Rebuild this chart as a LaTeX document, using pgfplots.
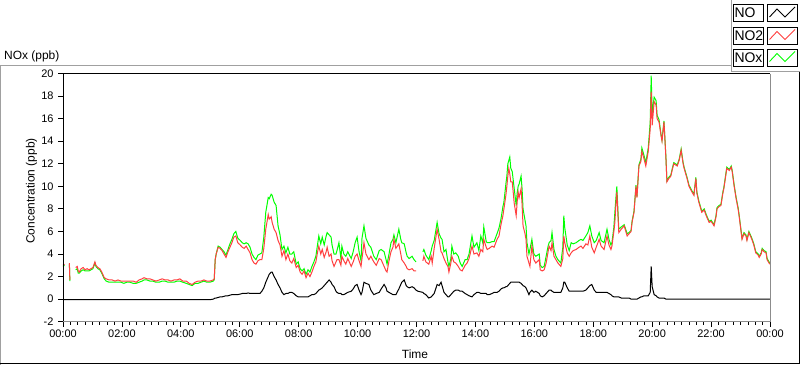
\documentclass[border=0pt]{standalone}
\usepackage{pgfplots}
\pgfplotsset{compat=1.18}
\usepackage{pgfplotstable}
\usepackage{fontspec}
\setmainfont{Liberation Sans}
\definecolor{noxgreen}{RGB}{0,255,0}
\definecolor{no2red}{RGB}{255,64,64}
\definecolor{framegray}{RGB}{160,160,160}
\definecolor{axgray}{RGB}{140,140,140}

\pgfplotstableread{
t NO NO2 NOx
0 -0.05 3.0 2.9
3 -0.05 3.1 3.0
4 -0.05 nan nan
13 -0.05 3.2 3.1
14 -0.05 1.7 1.6
15 -0.05 nan nan
26 -0.05 2.8 2.6
29 -0.05 2.9 2.7
31 -0.05 2.5 2.3
33 -0.05 2.4 2.3
37 -0.05 2.7 2.5
41 -0.05 2.8 2.6
45 -0.05 2.6 2.5
49 -0.05 2.7 2.5
53 -0.05 2.6 2.5
57 -0.05 2.7 2.6
61 -0.05 2.8 2.7
65 -0.05 3.3 3.2
67 -0.05 3.0 2.9
71 -0.05 2.8 2.7
75 -0.05 2.7 2.6
79 -0.05 2.4 2.3
84 -0.05 1.9 1.8
88 -0.05 1.8 1.6
94 -0.05 1.7 1.5
100 -0.05 1.7 1.5
106 -0.05 1.6 1.5
112 -0.05 1.7 1.5
118 -0.05 1.6 1.5
124 -0.05 1.6 1.4
130 -0.05 1.6 1.5
136 -0.05 1.6 1.5
143 -0.05 1.6 1.4
149 -0.05 1.5 1.4
155 -0.05 1.7 1.5
161 -0.05 1.8 1.6
165 -0.05 1.9 1.7
171 -0.05 1.8 1.7
177 -0.05 1.8 1.6
183 -0.05 1.7 1.6
189 -0.05 1.6 1.5
196 -0.05 1.7 1.5
202 -0.05 1.8 1.6
208 -0.05 1.7 1.6
214 -0.05 1.7 1.5
220 -0.05 1.6 1.5
226 -0.05 1.7 1.5
232 -0.05 1.7 1.6
238 -0.05 1.8 1.6
244 -0.05 1.6 1.5
251 -0.05 1.6 1.4
257 -0.05 1.4 1.3
263 -0.05 1.3 1.2
269 -0.05 1.5 1.4
275 -0.05 1.6 1.4
281 -0.05 1.6 1.5
287 -0.05 1.7 1.6
293 -0.05 1.6 1.5
299 -0.05 1.6 1.5
306 0.0 1.7 1.6
308 0.05 1.8 1.7
310 0.1 3.5 3.5
312 0.1 4.0 4.0
316 0.15 4.6 4.7
320 0.2 4.5 4.6
324 0.2 4.3 4.4
328 0.25 4.0 4.2
332 0.3 3.7 3.9
336 0.3 4.2 4.4
340 0.35 4.6 4.9
344 0.4 5.0 5.3
348 0.4 5.5 5.8
352 0.4 5.6 6.0
356 0.4 5.0 5.4
361 0.45 4.8 5.2
365 0.5 4.6 5.0
369 0.5 4.5 4.9
373 0.5 4.7 5.0
377 0.55 4.4 4.9
381 0.5 4.1 4.6
385 0.5 3.5 4.0
389 0.5 3.2 3.7
393 0.5 3.1 3.5
397 0.5 3.4 3.9
401 0.5 3.5 4.0
405 0.7 3.5 4.1
409 1.0 4.5 5.5
413 1.5 6.2 7.7
418 2.0 7.5 9.0
420 2.2 7.1 8.9
424 2.4 7.3 9.3
426 2.4 6.8 9.2
430 2.0 6.2 8.6
434 1.7 5.9 8.3
438 1.3 5.2 6.5
442 1.0 4.8 5.7
446 0.6 3.8 4.4
450 0.4 4.3 4.7
454 0.5 3.5 4.1
458 0.5 4.0 4.6
462 0.6 3.4 4.0
466 0.6 3.2 4.0
470 0.5 3.6 4.2
475 0.3 2.8 3.1
479 0.2 3.0 3.3
483 0.2 2.4 2.7
487 0.2 2.2 2.5
491 0.2 2.5 2.7
495 0.2 1.9 2.2
499 0.2 2.3 2.6
503 0.3 2.0 2.4
507 0.4 2.4 2.9
511 0.4 2.9 3.3
515 0.5 3.3 3.8
519 0.7 4.3 5.0
521 0.8 4.7 5.6
525 0.9 4.0 4.9
528 1.0 4.4 5.5
532 1.2 3.7 4.8
536 1.4 4.2 5.6
538 1.5 4.6 5.9
542 1.7 3.8 5.7
546 1.5 4.0 5.5
548 1.3 3.4 4.8
552 1.1 2.9 4.0
556 0.7 3.3 4.0
558 0.6 3.5 4.3
562 0.5 3.5 5.0
566 0.5 3.0 3.6
568 0.4 3.8 4.7
572 0.4 3.4 4.0
576 0.5 3.1 3.8
580 0.6 3.6 4.2
587 0.7 2.9 3.6
591 0.9 3.3 4.2
595 1.2 3.8 5.0
599 1.3 4.0 5.5
603 0.8 3.4 4.2
607 0.4 2.9 3.4
609 0.6 3.6 5.4
613 1.5 5.0 6.5
617 1.4 4.0 5.4
623 1.3 3.5 4.8
627 0.8 3.8 4.6
633 0.4 3.3 3.8
638 0.5 3.0 3.5
644 0.6 3.6 4.3
648 0.9 3.5 4.4
654 1.3 2.9 4.2
658 1.0 2.5 3.5
660 0.7 2.4 3.1
664 0.6 3.4 4.0
668 0.5 4.2 5.0
672 0.4 4.6 5.3
674 0.4 5.3 5.7
678 0.4 4.5 5.0
684 0.9 4.9 6.2
688 1.3 4.0 5.3
690 1.5 3.5 5.0
695 1.7 3.2 4.9
699 1.2 2.9 4.1
701 1.1 2.7 3.8
705 1.0 2.6 3.6
711 1.1 2.7 3.8
715 1.0 2.5 3.5
719 0.8 2.5 3.3
723 0.7 nan nan
733 0.6 3.4 4.2
735 0.5 3.8 4.4
739 0.4 3.3 3.9
745 0.1 3.1 3.5
750 0.2 3.8 4.3
752 0.3 3.2 4.7
756 0.5 4.5 5.2
762 1.3 6.2 6.8
766 1.2 5.3 5.8
770 1.5 4.2 5.4
772 1.2 4.1 5.3
776 0.6 3.6 4.2
780 0.4 3.2 4.4
784 0.2 2.9 3.3
786 0.2 2.4 2.9
790 0.4 3.2 3.6
792 0.5 3.8 4.7
796 0.7 3.3 4.0
800 0.8 3.2 4.1
805 0.8 2.9 3.8
809 0.7 2.6 3.2
813 0.7 2.5 2.9
819 0.5 3.0 3.5
823 0.4 3.2 3.5
827 0.3 3.6 4.0
833 0.2 4.7 5.6
837 0.4 4.0 4.6
843 0.6 4.1 5.0
847 0.6 3.8 4.3
851 0.5 4.4 5.6
855 0.5 4.2 5.0
857 0.5 5.3 6.4
862 0.5 4.6 5.1
864 0.4 4.4 5.0
868 0.4 4.5 5.0
874 0.5 4.7 5.1
878 0.6 4.6 5.1
884 0.6 5.3 5.8
888 0.7 5.6 6.3
892 0.9 6.6 7.1
896 1.0 7.4 8.2
898 1.0 8.0 8.6
902 1.1 9.2 10.2
904 1.1 10.0 10.9
906 1.2 10.9 12.0
908 1.3 11.6 12.3
910 1.4 11.1 12.6
912 1.5 10.4 11.6
915 1.5 10.4 11.3
919 1.5 8.5 9.8
923 1.5 7.4 8.3
925 1.5 8.6 9.4
927 1.5 9.5 10.0
929 1.5 9.0 10.2
933 1.4 9.8 10.9
935 1.3 8.4 9.8
937 1.2 6.5 8.0
941 1.1 5.8 7.0
943 1.0 5.3 6.5
945 0.8 3.8 5.0
949 0.4 3.2 4.0
951 0.6 2.9 4.4
955 0.8 4.7 5.3
959 0.6 3.5 4.0
963 0.7 3.2 3.8
970 0.5 3.5 4.0
972 0.3 2.6 3.0
976 0.2 2.5 2.8
980 0.3 2.6 2.9
984 0.5 3.2 3.8
988 0.7 4.2 4.7
990 0.8 4.7 5.0
994 0.8 4.3 5.2
996 0.7 5.0 5.9
1000 0.6 3.8 4.4
1004 0.6 3.5 3.8
1008 0.6 3.2 3.5
1014 0.6 2.9 3.2
1018 1.0 3.6 4.6
1020 1.5 5.6 7.4
1022 1.5 5.0 6.3
1027 1.0 4.1 4.8
1031 0.7 3.8 4.3
1035 0.7 4.1 5.0
1039 0.7 4.3 4.9
1045 0.7 4.4 5.0
1051 0.7 4.6 5.2
1055 0.7 4.7 5.3
1059 0.7 4.5 5.2
1065 0.8 4.9 5.6
1069 1.0 4.8 5.9
1073 1.2 5.6 6.5
1077 1.3 4.6 5.6
1082 0.8 4.1 5.0
1086 0.6 4.6 5.2
1092 0.6 5.3 5.9
1096 0.6 4.7 5.2
1102 0.6 4.4 5.0
1108 0.6 5.6 6.2
1112 0.5 4.8 5.3
1116 0.4 4.4 4.8
1118 0.3 4.7 5.0
1122 0.2 6.0 6.4
1124 0.2 6.8 7.7
1126 0.2 8.3 8.9
1128 0.2 9.5 10.0
1132 0.2 5.9 6.2
1137 0.1 6.2 6.4
1143 0.1 6.5 6.6
1149 0.1 5.6 5.8
1153 0.1 5.8 5.9
1157 0.0 6.0 6.1
1159 0.0 6.8 6.9
1163 0.0 7.7 7.8
1167 0.0 10.0 10.1
1169 0.0 9.0 9.1
1173 0.1 11.8 11.9
1177 0.2 12.2 12.4
1179 0.2 13.1 13.4
1183 0.3 12.5 12.8
1187 0.3 11.8 12.1
1192 0.3 13.1 13.4
1196 0.6 15.1 15.7
1198 2.9 18.4 19.8
1200 1.1 15.4 16.5
1204 0.4 17.5 17.9
1208 0.3 17.2 17.6
1210 0.2 16.0 16.3
1214 0.1 15.7 15.9
1218 0.1 14.5 14.6
1220 0.1 14.0 14.1
1224 0.1 15.7 15.8
1228 0.0 12.5 12.6
1230 0.0 10.4 10.5
1234 0.0 10.7 10.8
1238 0.0 10.9 11.0
1240 0.0 11.3 11.4
1244 0.0 12.0 12.1
1251 0.0 11.8 11.9
1255 0.0 12.3 12.4
1259 0.0 13.2 13.3
1263 0.0 12.0 12.1
1265 0.0 11.6 11.7
1269 0.0 11.0 11.1
1271 0.0 10.7 10.8
1275 0.0 10.0 10.1
1281 0.0 9.5 9.6
1285 0.0 9.2 9.3
1289 0.0 10.7 10.8
1291 0.0 9.4 9.5
1295 0.0 8.6 8.7
1299 0.0 8.0 8.1
1301 0.0 7.7 7.8
1306 0.0 7.9 8.0
1310 0.0 7.4 7.5
1314 0.0 7.0 7.1
1316 0.0 6.8 6.9
1320 0.0 6.9 7.0
1326 0.0 6.5 6.6
1330 0.0 7.3 7.4
1332 0.0 8.0 8.1
1336 0.0 8.2 8.3
1340 0.0 8.3 8.4
1344 0.0 9.4 9.5
1346 0.0 9.8 9.9
1350 0.0 11.0 11.1
1352 0.0 11.6 11.7
1357 0.0 11.4 11.5
1361 0.0 11.7 11.8
1363 0.0 11.3 11.4
1367 0.0 10.0 10.1
1371 0.0 8.9 9.0
1375 0.0 8.0 8.1
1377 0.0 7.4 7.5
1381 0.0 6.0 6.1
1383 0.0 5.3 5.4
1387 0.0 5.8 5.9
1391 0.0 5.6 5.7
1393 0.0 5.2 5.3
1397 0.0 5.9 6.0
1401 0.0 5.5 5.6
1403 0.0 5.3 5.4
1407 0.0 4.8 4.9
1411 0.0 4.1 4.2
1416 0.0 3.9 4.0
1418 0.0 3.7 3.8
1422 0.0 4.0 4.1
1424 0.0 4.4 4.5
1428 0.0 4.2 4.3
1432 0.0 4.1 4.2
1434 0.0 3.5 3.6
1438 0.0 3.2 3.3
1440 0.0 3.1 3.2
}\data

\begin{document}
\begin{tikzpicture}[x=1bp,y=1bp]
\useasboundingbox (0,0) rectangle (800,365);
\fill[white] (0,0) rectangle (800,365);
% outer frame
\draw[framegray, line width=1bp] (0.5,0) -- (0.5,299.5) -- (731.5,299.5);
\draw[black, line width=1bp] (0,1.5) -- (799.5,1.5) -- (799.5,293.5);
% legend panel
\draw[framegray, line width=1bp] (731.5,365) -- (731.5,293.5) -- (800,293.5);
\foreach \c/\lab/\col in {352/NO/black, 329.5/NO2/no2red, 307.5/NOx/noxgreen}{
  \draw[black, line width=0.8bp, fill=white] (733.5,\c-8.5) rectangle (763.5,\c+8.5);
  \node[anchor=west, inner sep=0pt, font=\fontsize{14}{16}\selectfont] at (734.3,\c) {\lab};
  \draw[black, line width=0.8bp, fill=white] (767.5,\c-8.5) rectangle (797.5,\c+8.5);
  \draw[\col, line width=0.9bp] (769.5,\c-4) -- (777,\c+4) -- (785,\c-4) -- (795,\c+6);
}
\begin{axis}[
  at={(63bp,43.3bp)}, anchor=south west,
  width=707bp, height=248.2bp, scale only axis,
  xmin=0, xmax=1440, ymin=-2, ymax=20,
  clip=false,
  unbounded coords=jump,
  axis line style={draw=none},
  xtick={0,120,...,1440},
  xticklabels={00:00,02:00,04:00,06:00,08:00,10:00,12:00,14:00,16:00,18:00,20:00,22:00,00:00},
  minor x tick num=7,
  ytick={-2,0,...,20},
  xtick pos=lower, ytick pos=left,
  tick align=outside,
  major tick length=5bp, minor tick length=3bp,
  tick style={black, line width=0.8bp},
  /pgf/number format/assume math mode=true,
  tick label style={font=\fontsize{11}{13}\selectfont},
  yticklabel style={xshift=-1bp},
]
\addplot[noxgreen, line width=1bp] table[x=t, y=NOx] {\data};
\addplot[no2red, line width=1bp] table[x=t, y=NO2] {\data};
\addplot[black, line width=1bp] table[x=t, y=NO] {\data};
\draw[black, line width=1bp] (rel axis cs:0,0) -- (rel axis cs:0,1) -- (rel axis cs:1,1);
\draw[axgray, line width=1bp] (rel axis cs:1,1) -- (rel axis cs:1,0) -- (rel axis cs:0,0);
\end{axis}
\node[anchor=base west, inner sep=0pt, font=\fontsize{12}{14}\selectfont] at (4,306) {NOx (ppb)};
\node[anchor=base, rotate=90, inner sep=0pt, font=\fontsize{12}{14}\selectfont] at (34.5,174) {Concentration (ppb)};
\node[anchor=base, inner sep=0pt, font=\fontsize{12}{14}\selectfont] at (415,7) {Time};
\end{tikzpicture}
\end{document}
